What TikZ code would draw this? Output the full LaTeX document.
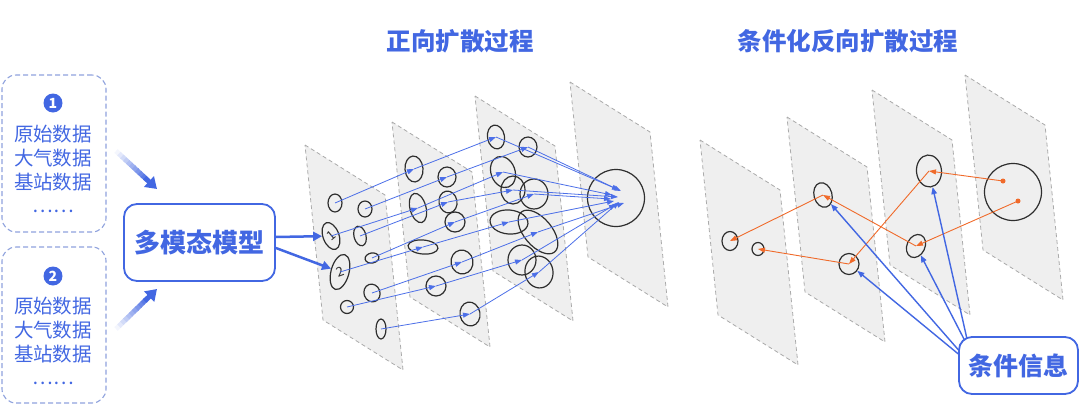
\documentclass[tikz,border=0pt]{standalone}
\usepackage{fontspec}
\setmainfont{Noto Sans CJK SC}
\usetikzlibrary{shapes.geometric,arrows.meta,calc}
\definecolor{mainblue}{HTML}{4267E2}
\definecolor{dashblue}{HTML}{8FA2DD}
\definecolor{planefill}{HTML}{EFEFEF}
\definecolor{planeline}{HTML}{ABABAB}
\definecolor{ellline}{HTML}{2E2E2E}
\definecolor{thinblue}{HTML}{4C6FE8}
\definecolor{orangec}{HTML}{F06A2A}
\newcommand\planeshape[2]{\path[planebox] (#1,#2) -- ++(80,50) -- ++(18,175) -- ++(-80,-50) -- cycle;}
\begin{document}
\begin{tikzpicture}[x=1pt,y=-1pt,
  planebox/.style={fill=planefill, draw=planeline, dash pattern=on 4pt off 3pt, line width=0.8pt},
  ell/.style={ellipse, draw=ellline, line width=1.2pt, inner sep=0pt},
  thinarr/.style={draw=thinblue, line width=0.8pt, -{Triangle[length=7pt,width=5pt]}},
  orarr/.style={draw=orangec, line width=0.9pt, -{Triangle[length=7pt,width=5pt]}},
  condarr/.style={draw=mainblue, line width=1.4pt, -{Triangle[length=7pt,width=5.5pt]}},
  bigarr/.style={draw=mainblue, line width=2.5pt, -{Triangle[length=9pt,width=9pt]}},
  databox/.style={draw=dashblue, dash pattern=on 5pt off 3pt, line width=1.1pt, rounded corners=14pt, minimum width=104pt, minimum height=157pt},
  txt/.style={text=mainblue, font=\fontsize{19.5}{22}\selectfont, inner sep=0pt},
  numdot/.style={circle, fill=mainblue, text=white, inner sep=0pt, minimum size=19pt, font=\fontsize{14}{14}\selectfont\bfseries},
  title/.style={text=mainblue, font=\fontsize{24.5}{28}\selectfont\bfseries, inner sep=0pt},
  solidbox/.style={draw=mainblue, fill=white, line width=1.8pt, rounded corners=13pt, text=mainblue, inner sep=0pt},
  dig/.style={font=\fontsize{13}{13}\selectfont, text=ellline},
]
\useasboundingbox (0,0) rectangle (1080,410);

% ---------- titles
\node[title] (t1) at (460,41) {正向扩散过程};
\node[title] (t2) at (848,41) {条件化反向扩散过程};

% ---------- data boxes
\node[databox] (box1) at (54,153.5) {};
\node[databox, minimum height=156pt] (box2) at (54,325) {};
\node[numdot] (n1) at (53,103) {1};
\node[txt] (a11) at (53,134) {原始数据};
\node[txt] (a12) at (53,158) {大气数据};
\node[txt] (a13) at (53,182) {基站数据};
\node[txt] (a14) at (53,211) {……};
\node[numdot] (n2) at (53,276) {2};
\node[txt] (a21) at (53,306) {原始数据};
\node[txt] (a22) at (53,330) {大气数据};
\node[txt] (a23) at (53,354) {基站数据};
\node[txt] (a24) at (53,383) {……};

% ---------- gradient arrows
\coordinate (ga1s) at (116,151);
\coordinate (ga1e) at (157,189);
\coordinate (ga2s) at (116,329);
\coordinate (ga2e) at (157,289);
\foreach \i [evaluate=\i as \c using 6+\i*9] in {0,...,9}{
  \draw[line width=5pt, mainblue!\c] ($(ga1s)!{\i/14}!(ga1e)$) -- ($(ga1s)!{(\i+1.2)/14}!(ga1e)$);
  \draw[line width=5pt, mainblue!\c] ($(ga2s)!{\i/14}!(ga2e)$) -- ($(ga2s)!{(\i+1.2)/14}!(ga2e)$);
}
\draw[mainblue, line width=5pt, -{Triangle[length=11pt,width=14pt]}] ($(ga1s)!0.7!(ga1e)$) -- (ga1e);
\draw[mainblue, line width=5pt, -{Triangle[length=11pt,width=14pt]}] ($(ga2s)!0.7!(ga2e)$) -- (ga2e);

% ---------- model box
\node[solidbox, minimum width=151pt, minimum height=77pt, font=\fontsize{26}{30}\selectfont\bfseries] (model) at (199.5,242.5) {多模态模型};

% ---------- planes (forward)
\planeshape{305}{145}
\planeshape{392}{122}
\planeshape{475}{96}
\planeshape{570}{82}
% ---------- planes (reverse)
\planeshape{700}{140}
\planeshape{787}{117}
\planeshape{872}{90}
\planeshape{965}{75}

% ---------- forward ellipses, plane 1
\node[ell, minimum width=14pt, minimum height=18pt] (e1) at (335,203) {};
\node[ell, minimum width=14pt, minimum height=16pt] (e2) at (365,209) {};
\node[ell, minimum width=16pt, minimum height=28pt, rotate=20, dig] (one) at (331,236) {\rotatebox{20}{1}};
\node[ell, minimum width=12pt, minimum height=20pt, rotate=15] (e4) at (360,236) {};
\node[ell, minimum width=18pt, minimum height=36pt, rotate=-15, dig] (two) at (340,272) {\rotatebox{35}{2}};
\node[ell, minimum width=14pt, minimum height=10pt, rotate=10] (e6) at (372,258) {};
\node[ell, minimum width=16pt, minimum height=18pt, rotate=20] (e7) at (372,293) {};
\node[ell, minimum width=13pt, minimum height=13pt] (e8) at (347,307) {};
\node[ell, minimum width=10pt, minimum height=20pt] (e9) at (381,329) {};
% plane 2
\node[ell, minimum width=18pt, minimum height=26pt, rotate=5] (f1) at (414,169) {};
\node[ell, minimum width=18pt, minimum height=20pt] (f2) at (447,177) {};
\node[ell, minimum width=16pt, minimum height=30pt, rotate=15] (f3) at (418,208) {};
\node[ell, minimum width=18pt, minimum height=22pt, rotate=10] (f4) at (448,202) {};
\node[ell, minimum width=20pt, minimum height=20pt] (f5) at (455,222) {};
\node[ell, minimum width=30pt, minimum height=14pt, rotate=-5] (f6) at (423,247) {};
\node[ell, minimum width=22pt, minimum height=24pt, rotate=10] (f7) at (462,262) {};
\node[ell, minimum width=20pt, minimum height=20pt] (f8) at (436,286) {};
\node[ell, minimum width=20pt, minimum height=24pt, rotate=10] (f9) at (470,314) {};
% plane 3
\node[ell, minimum width=17pt, minimum height=24pt, rotate=10] (g1) at (496,137) {};
\node[ell, minimum width=18pt, minimum height=20pt] (g2) at (528,147) {};
\node[ell, minimum width=24pt, minimum height=32pt, rotate=20] (g3) at (503,172) {};
\node[ell, minimum width=24pt, minimum height=28pt] (g4) at (513,190) {};
\node[ell, minimum width=28pt, minimum height=30pt] (g5) at (534,194) {};
\node[ell, minimum width=38pt, minimum height=24pt, rotate=-5] (g6) at (509,222) {};
\node[ell, minimum width=28pt, minimum height=52pt, rotate=40] (g7) at (538,232) {};
\node[ell, minimum width=28pt, minimum height=30pt] (g8) at (522,260) {};
\node[ell, minimum width=28pt, minimum height=32pt, rotate=10] (g9) at (539,272) {};
% plane 4
\node[ell, minimum width=57pt, minimum height=57pt] (big) at (616,198) {};
\coordinate (t1) at (619,190);
\coordinate (t2) at (621,191);
\coordinate (t3) at (612,195);
\coordinate (t4) at (618,197);
\coordinate (t5) at (611,199);
\coordinate (t6) at (614,201);
\coordinate (t7) at (624,203);
\coordinate (t8) at (616,204);
\coordinate (t9) at (619,202);

% ---------- model to plane 1
\draw[bigarr] ([yshift=5.5pt]model.east) -- (one);
\draw[bigarr] ([yshift=-5.5pt]model.east) -- (two);

% ---------- forward arrows
\draw[thinarr] (e1.center) -- (f1.center);
\draw[thinarr] (e2.center) -- (f2.center);
\draw[thinarr] (one.center) -- (f3.center);
\draw[thinarr] (e4.center) -- (f4.center);
\draw[thinarr] (e6.center) -- (f5.center);
\draw[thinarr] (two.center) -- (f6.center);
\draw[thinarr] (e7.center) -- (f7.center);
\draw[thinarr] (e8.center) -- (f8.center);
\draw[thinarr] (e9.center) -- (f9.center);
\draw[thinarr] (f1.center) -- (g1.center);
\draw[thinarr] (f2.center) -- (g2.center);
\draw[thinarr] (f3.center) -- (g3.center);
\draw[thinarr] (f4.center) -- (g4.center);
\draw[thinarr] (f5.center) -- (g5.center);
\draw[thinarr] (f6.center) -- (g6.center);
\draw[thinarr] (f7.center) -- (g7.center);
\draw[thinarr] (f8.center) -- (g8.center);
\draw[thinarr] (f9.center) -- (g9.center);
\draw[thinarr] (g1.center) -- (t1);
\draw[thinarr] (g2.center) -- (t2);
\draw[thinarr] (g3.center) -- (t3);
\draw[thinarr] (g4.center) -- (t4);
\draw[thinarr] (g5.center) -- (t5);
\draw[thinarr] (g6.center) -- (t6);
\draw[thinarr] (g7.center) -- (t7);
\draw[thinarr] (g8.center) -- (t8);
\draw[thinarr] (g9.center) -- (t9);

% ---------- reverse ellipses
\node[ell, minimum width=16pt, minimum height=19pt] (ra1) at (730,241) {};
\node[ell, minimum width=12pt, minimum height=13pt] (ra2) at (758,249) {};
\node[ell, minimum width=18pt, minimum height=25pt, rotate=15] (rb1) at (823,195) {};
\node[ell, minimum width=20pt, minimum height=21pt] (rb2) at (849,264) {};
\node[ell, minimum width=25pt, minimum height=32pt, rotate=5] (rc1) at (929,171) {};
\node[ell, minimum width=18pt, minimum height=24pt, rotate=-25] (rc2) at (916,246) {};
\node[ell, minimum width=57pt, minimum height=57pt] (rd) at (1013,192) {};
\node[circle, fill=orangec, inner sep=0pt, minimum size=5pt] (d1) at (1003,181) {};
\node[circle, fill=orangec, inner sep=0pt, minimum size=5pt] (d2) at (1018,201) {};

% ---------- reverse arrows
\draw[orarr] (d1.center) -- (rc1.center);
\draw[orarr] (d2.center) -- (rc2.center);
\draw[orarr] (rc2.center) -- (rb1.center);
\draw[orarr] (rc1.center) -- (rb2.center);
\draw[orarr] (rb1.center) -- (ra1.center);
\draw[orarr] (rb2.center) -- (ra2.center);

% ---------- condition arrows and box
\coordinate (s1) at (962,354);
\coordinate (s2) at (962,357);
\coordinate (s3) at (965,341);
\coordinate (s4) at (967,339);
\draw[condarr] (s1) -- (rb1);
\draw[condarr] (s2) -- (rb2);
\draw[condarr] (s3) -- (rc2);
\draw[condarr] (s4) -- (rc1);
\node[solidbox, minimum width=119pt, minimum height=57pt, font=\fontsize{25}{30}\selectfont\bfseries] (cond) at (1018.5,365.5) {条件信息};
\end{tikzpicture}
\end{document}
